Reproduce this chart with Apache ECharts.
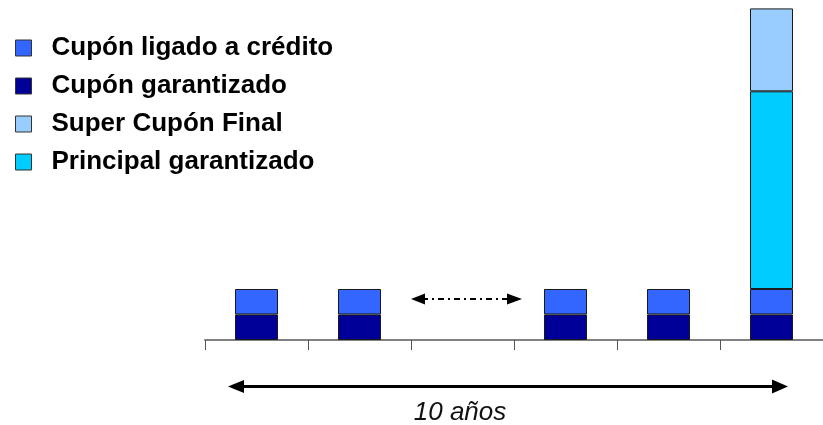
<!DOCTYPE html>
<html>
<head>
<meta charset="utf-8">
<script src="https://cdn.jsdelivr.net/npm/echarts@6/dist/echarts.min.js"></script>
<style>
html,body{margin:0;padding:0;background:#fff;}
#chart{width:823px;height:425px;}
</style>
</head>
<body>
<div id="chart"></div>
<script>
var categories = ['Año 1', 'Año 2', '…', 'Año 8', 'Año 9', 'Año 10'];
var cuponGarantizado = [1, 1, null, 1, 1, 1];
var cuponLigado = [1, 1, null, 1, 1, 1];
var principalGarantizado = [null, null, null, null, null, 7.75];
var superCuponFinal = [null, null, null, null, null, 3.25];
var legendOrder = ['Cupón ligado a crédito', 'Cupón garantizado', 'Super Cupón Final', 'Principal garantizado'];
var durationLabel = '10 años';

var chart = echarts.init(document.getElementById('chart'), null, {renderer: 'canvas'});
var border = {borderColor: '#1a1a1a', borderWidth: 1};
function ser(name, data, color) {
  return {
    name: name, type: 'bar', stack: 'total', data: data, barWidth: 43,
    itemStyle: Object.assign({color: color}, border),
    emphasis: {disabled: true}
  };
}
var option = {
  animation: false,
  grid: {left: 205, right: -5, top: 0, bottom: 85, containLabel: false},
  legend: {
    data: legendOrder, orient: 'vertical', left: 15, top: 35, padding: 0,
    itemWidth: 16, itemHeight: 16, itemGap: 12, icon: 'rect',
    itemStyle: {borderColor: '#333', borderWidth: 1},
    textStyle: {fontFamily: 'Liberation Sans, Arial, sans-serif', fontWeight: 'bold', fontSize: 26, lineHeight: 26, color: '#000', padding: [0, 0, 0, 15]},
    selectedMode: false
  },
  xAxis: {
    type: 'category', data: categories, boundaryGap: true,
    axisLine: {show: true, lineStyle: {color: '#808080', width: 2}},
    axisTick: {show: true, length: 10, lineStyle: {color: '#555', width: 1}},
    axisLabel: {show: false}
  },
  yAxis: {type: 'value', min: 0, max: 13.33, show: false, splitLine: {show: false}},
  series: [
    ser('Cupón garantizado', cuponGarantizado, '#000099'),
    ser('Cupón ligado a crédito', cuponLigado, '#3366FF'),
    ser('Principal garantizado', principalGarantizado, '#00CCFF'),
    ser('Super Cupón Final', superCuponFinal, '#99CCFF')
  ],
  graphic: [
    {type: 'line', shape: {x1: 240, y1: 386.5, x2: 776, y2: 386.5}, style: {stroke: '#000', lineWidth: 3}},
    {type: 'polygon', shape: {points: [[228, 386.5], [244, 380], [244, 393]]}, style: {fill: '#000'}},
    {type: 'polygon', shape: {points: [[788, 386.5], [772, 379.5], [772, 393.5]]}, style: {fill: '#000'}},
    {type: 'line', shape: {x1: 422, y1: 299, x2: 509, y2: 299}, style: {stroke: '#000', lineWidth: 2, lineDash: [6, 4, 2, 4]}},
    {type: 'polygon', shape: {points: [[411, 299], [425, 293.5], [425, 304.5]]}, style: {fill: '#000'}},
    {type: 'polygon', shape: {points: [[522, 299], [507, 293.5], [507, 304.5]]}, style: {fill: '#000'}},
    {type: 'text', x: 460, y: 413, style: {text: durationLabel, fontFamily: 'Liberation Sans, Arial, sans-serif', fontStyle: 'italic', fontSize: 26, fill: '#111', align: 'center', verticalAlign: 'middle'}}
  ]
};
chart.setOption(option);
</script>
</body>
</html>
